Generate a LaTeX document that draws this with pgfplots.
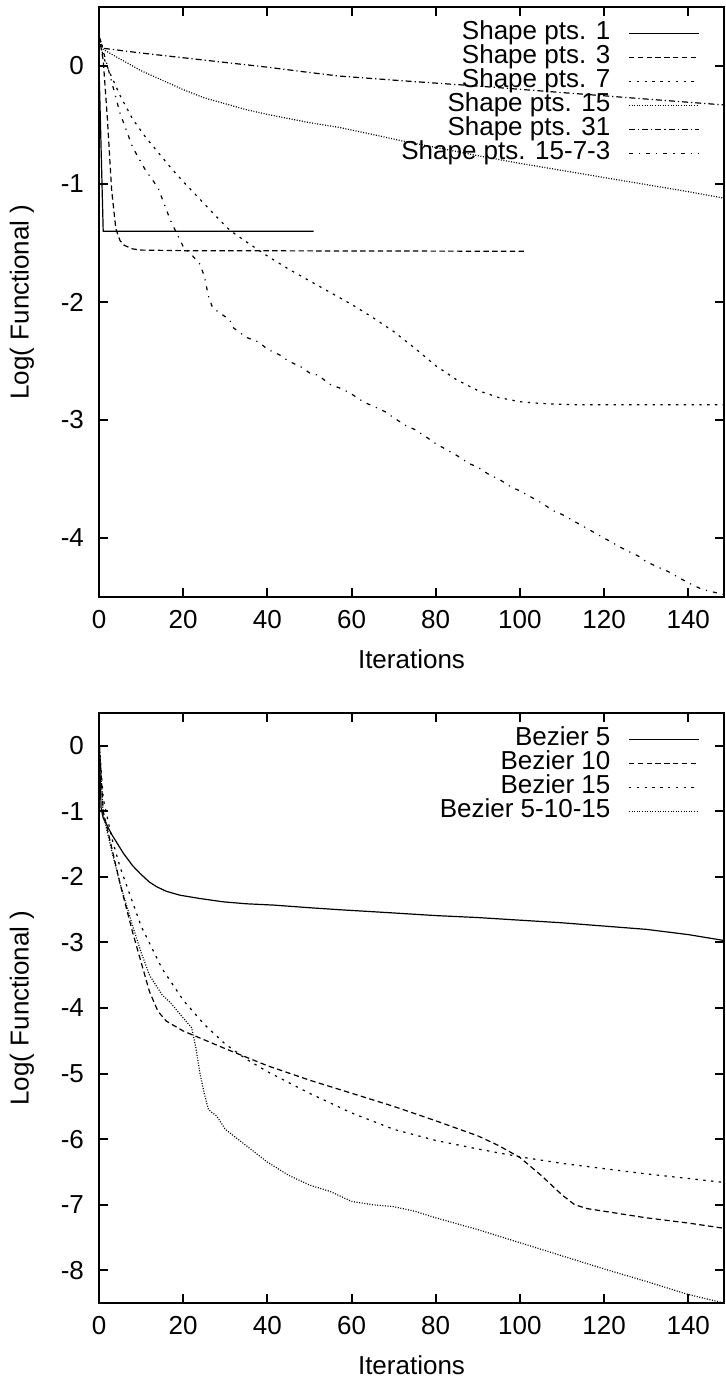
\documentclass[border=0pt]{standalone}
\usepackage{fontspec}
\setmainfont{Liberation Sans}
\usepackage{pgfplots}
\pgfplotsset{compat=1.18}
\tikzset{
 ls1/.style={solid},
 ls2/.style={dash pattern=on 2.7pt off 1.7pt},
 ls3/.style={dash pattern=on 1.2pt off 2.7pt},
 ls4/.style={dash pattern=on 0.5pt off 0.8pt},
 ls5/.style={dash pattern=on 3pt off 1.5pt on 0.6pt off 1.5pt},
 ls6/.style={dash pattern=on 2pt off 3pt on 0.6pt off 3pt},
}
\pgfplotsset{
 myaxis/.style={
  scale only axis, width=312.5pt, height=295pt,
  xmin=0, xmax=148.5,
  xtick={0,20,...,140},
  tick align=inside, major tick length=4.5pt,
  axis line style={line width=1.2pt},
  major tick style={line width=1pt, black},
  tick label style={font=\fontsize{13}{15}\selectfont},
  /pgf/number format/assume math mode=true,
  xlabel={Iterations}, ylabel={Log( Functional )},
  every axis x label/.style={at={(axis description cs:0.5,-0.105)}, anchor=center, font=\fontsize{13}{15}\selectfont},
  every axis y label/.style={at={(axis description cs:-0.1232,0.5)}, anchor=center, rotate=90, font=\fontsize{13}{15}\selectfont},
  xticklabel style={yshift=-3pt},
  yticklabel style={xshift=-4pt},
  legend style={draw=none, fill=none, at={(axis description cs:0.9616,0.976)}, anchor=north east,
    inner sep=0pt, column sep=9pt, row sep=0pt,
    nodes={inner sep=0pt, text height=9pt, text depth=3pt},
    font=\fontsize{13}{15}\selectfont},
  legend cell align=right,
  legend plot pos=right,
  legend image code/.code={\draw[#1] (0pt,0pt) -- (35pt,0pt);},
  every axis plot/.append style={line width=0.6pt, black},
 }
}
\begin{document}
\begin{tikzpicture}
\useasboundingbox (0,0) rectangle (362.5pt,-690pt);
\begin{axis}[myaxis, at={(49.5pt,-298.5pt)}, anchor=south west,
  ymin=-4.5, ymax=0.5, ytick={-4,-3,-2,-1,0}]
\addplot[ls1] coordinates {(0,0.0) (1,-1.4) (51,-1.4)};
\addlegendentry{Shape pts. 1}
\addplot[ls2] coordinates {(0,0.25) (1,0.05) (2,-0.45) (3,-1.05) (4,-1.38) (5,-1.48) (6,-1.52) (8,-1.55) (10,-1.56) (20,-1.565) (101,-1.57)};
\addlegendentry{Shape pts. 3}
\addplot[ls3] coordinates {(0,0.25) (1,0.08) (2.6,-0.06) (5,-0.25) (8,-0.45) (11,-0.6) (14,-0.73) (17,-0.86) (20,-0.98) (24,-1.13) (28,-1.28) (31,-1.39) (35,-1.49) (40,-1.61) (45,-1.72) (50,-1.82) (55,-1.92) (60,-2.02) (65,-2.13) (70,-2.25) (75,-2.39) (80,-2.54) (85,-2.66) (90,-2.75) (95,-2.81) (100,-2.845) (105,-2.86) (112,-2.87) (148.5,-2.87)};
\addlegendentry{Shape pts. 7}
\addplot[ls4] coordinates {(0,0.25) (1,0.14) (5,0.06) (10,-0.04) (15,-0.12) (20,-0.2) (25,-0.27) (30,-0.32) (35,-0.37) (40,-0.41) (50,-0.48) (57,-0.52) (65,-0.58) (72,-0.635) (80,-0.69) (90,-0.76) (100,-0.825) (110,-0.885) (120,-0.945) (130,-1.005) (140,-1.065) (148.5,-1.12)};
\addlegendentry{Shape pts. 15}
\addplot[ls5] coordinates {(0,0.25) (1,0.15) (10,0.11) (20,0.07) (30,0.03) (40,-0.01) (50,-0.055) (57,-0.085) (72,-0.125) (90,-0.17) (110,-0.225) (130,-0.28) (148.5,-0.33)};
\addlegendentry{Shape pts. 31}
\addplot[ls6] coordinates {(0,0.25) (2,0.0) (5,-0.4) (8,-0.69) (11,-0.88) (14,-1.03) (17,-1.31) (20,-1.53) (22,-1.6) (24,-1.68) (25,-1.78) (26,-1.95) (27,-2.05) (29,-2.1) (31,-2.15) (32,-2.22) (35,-2.3) (38,-2.34) (40,-2.4) (43,-2.45) (45,-2.5) (48,-2.55) (50,-2.6) (52,-2.62) (55,-2.7) (58,-2.74) (60,-2.78) (63,-2.85) (65,-2.88) (68,-2.93) (70,-2.98) (73,-3.05) (75,-3.08) (78,-3.15) (80,-3.2) (83,-3.26) (85,-3.3) (88,-3.37) (90,-3.4) (93,-3.47) (95,-3.5) (98,-3.57) (100,-3.6) (103,-3.66) (105,-3.7) (108,-3.77) (110,-3.8) (113,-3.86) (115,-3.9) (118,-3.96) (120,-4.0) (123,-4.06) (125,-4.1) (128,-4.15) (130,-4.2) (133,-4.25) (135,-4.28) (138,-4.34) (140,-4.38) (143,-4.43) (145,-4.45) (148.5,-4.48)};
\addlegendentry{Shape pts. 15-7-3}
\end{axis}
\begin{axis}[myaxis, at={(49.5pt,-651.5pt)}, anchor=south west,
  ymin=-8.5, ymax=0.5, ytick={-8,-7,-6,-5,-4,-3,-2,-1,0}]
\addplot[ls1] coordinates {(0,0.1) (0.5,-0.95) (1,-1.1) (3,-1.35) (5.8,-1.64) (8,-1.83) (9.8,-1.95) (12,-2.08) (13.7,-2.15) (16,-2.22) (19.3,-2.28) (24,-2.33) (29.5,-2.38) (35,-2.41) (41.5,-2.43) (50,-2.47) (57,-2.5) (70,-2.55) (80,-2.59) (90,-2.62) (100,-2.66) (110,-2.7) (120,-2.75) (130,-2.8) (140,-2.88) (148.5,-2.97)};
\addlegendentry{Bezier 5}
\addplot[ls2] coordinates {(0,0.1) (1,-1.0) (3,-1.55) (5,-2.1) (8,-2.85) (10,-3.3) (12,-3.75) (14,-4.05) (16,-4.2) (20,-4.35) (30,-4.62) (40,-4.88) (50,-5.1) (60,-5.3) (70,-5.5) (80,-5.72) (90,-5.95) (95,-6.1) (100,-6.28) (105,-6.55) (110,-6.85) (113,-7.0) (116,-7.06) (120,-7.1) (130,-7.2) (140,-7.28) (148.5,-7.36)};
\addlegendentry{Bezier 10}
\addplot[ls3] coordinates {(0,0.1) (1,-0.8) (3,-1.4) (5,-1.85) (10,-2.75) (15,-3.4) (20,-3.88) (25,-4.25) (30,-4.55) (35,-4.78) (40,-4.97) (50,-5.3) (60,-5.6) (70,-5.85) (80,-6.02) (90,-6.15) (100,-6.27) (110,-6.37) (120,-6.45) (130,-6.53) (140,-6.6) (148.5,-6.66)};
\addlegendentry{Bezier 15}
\addplot[ls4] coordinates {(0,0.1) (1,-1.05) (3,-1.6) (5,-2.1) (8,-2.75) (10,-3.15) (12,-3.5) (15,-3.8) (17,-3.92) (20,-4.15) (22,-4.3) (23,-4.6) (24,-5.0) (25,-5.3) (26,-5.55) (28,-5.65) (30,-5.85) (33,-6.0) (36,-6.15) (40,-6.35) (45,-6.55) (50,-6.7) (55,-6.8) (60,-6.95) (65,-7.0) (70,-7.03) (75,-7.1) (80,-7.2) (90,-7.38) (100,-7.58) (110,-7.78) (120,-7.98) (130,-8.17) (140,-8.37) (148.5,-8.5)};
\addlegendentry{Bezier 5-10-15}
\end{axis}
\end{tikzpicture}
\end{document}
